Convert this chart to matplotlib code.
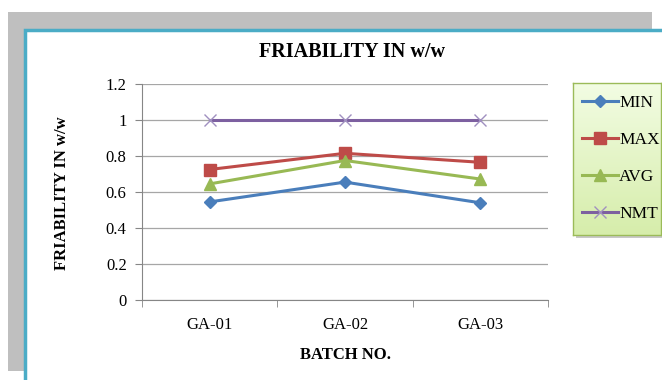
import numpy as np
import matplotlib
matplotlib.use("Agg")
import matplotlib.pyplot as plt
from matplotlib.patches import Rectangle

# data
batches = ["GA-01", "GA-02", "GA-03"]
min_vals = [0.545, 0.655, 0.54]
max_vals = [0.725, 0.815, 0.765]
avg_vals = [0.645, 0.775, 0.672]
nmt_vals = [1, 1, 1]

plt.rcParams["font.family"] = ["Liberation Serif", "DejaVu Serif"]

W, H = 662, 380
fig = plt.figure(figsize=(W / 100, H / 100), dpi=100)

def px(x0, y0, x1, y1):
    # pixel box (top-left origin) -> figure fractions
    return (x0 / W, 1 - y1 / H, (x1 - x0) / W, (y1 - y0) / H)

# gray outer frame
l, b, w, h = px(8, 12, 652, 371)
fig.patches.append(Rectangle((l, b), w, h, transform=fig.transFigure,
                             facecolor="#bfbfbf", edgecolor="none", zorder=-3))
# white panel with teal border
l, b, w, h = px(25, 30, 690, 400)
fig.patches.append(Rectangle((l, b), w, h, transform=fig.transFigure,
                             facecolor="white", edgecolor="#4bacc6",
                             linewidth=2.5, zorder=-2))

ax = fig.add_axes(px(142, 84, 548, 300))
ax.set_facecolor("none")
ax.set_zorder(2)
x = np.arange(len(batches))

ax.plot(x, min_vals, color="#4a7ebb", lw=2.2, marker="D", ms=6, label="MIN", zorder=5)
ax.plot(x, max_vals, color="#be4b48", lw=2.2, marker="s", ms=8, label="MAX", zorder=5)
ax.plot(x, avg_vals, color="#98b954", lw=2.2, marker="^", ms=8, label="AVG", zorder=5)
ax.plot(x, nmt_vals, color="#7d60a0", lw=2.2, marker="x", ms=9, mew=1,
        mec="#a090c0", label="NMT", zorder=5)

ax.set_xlim(-0.5, 2.5)
ax.set_ylim(0, 1.2)
ax.set_yticks(np.arange(0, 1.21, 0.2))
ax.set_yticklabels(["0", "0.2", "0.4", "0.6", "0.8", "1", "1.2"])
ax.set_xticks(x)
ax.set_xticklabels(batches)
ax.set_xticks([-0.5, 0.5, 1.5, 2.5], minor=True)
ax.tick_params(axis="x", which="major", length=0, pad=12, labelsize=12)
ax.tick_params(axis="x", which="minor", length=5, color="#868686")
ax.tick_params(axis="y", length=5, color="#868686", labelsize=12, pad=6)
ax.grid(axis="y", color="#a6a6a6", lw=0.9)
for s in ["top", "right"]:
    ax.spines[s].set_visible(False)
for s in ["left", "bottom"]:
    ax.spines[s].set_color("#868686")

fig.text(352 / W, 1 - 52 / H, "FRIABILITY IN w/w", ha="center", va="center",
         fontsize=14.5, fontweight="bold")
fig.text(62 / W, 1 - 193 / H, "FRIABILITY IN w/w", ha="center", va="center",
         rotation=90, fontsize=12, fontweight="bold")
fig.text(345 / W, 1 - 355 / H, "BATCH NO.", ha="center", va="center",
         fontsize=12, fontweight="bold")

# legend box with green gradient and shadow
l, b, w, h = px(576, 86, 665, 238)
fig.patches.append(Rectangle((l, b), w, h, transform=fig.transFigure,
                             facecolor="#c8c8c8", edgecolor="none", zorder=-1))
lax = fig.add_axes(px(573, 83, 661, 235))
lax.set_zorder(3)
grad = np.linspace(0, 1, 100).reshape(-1, 1)
c0 = np.array([0.95, 0.99, 0.89])
c1 = np.array([0.84, 0.93, 0.67])
img = c0 + (c1 - c0) * grad[:, :, None]
lax.imshow(img, aspect="auto", extent=(0, 1, 0, 1), origin="upper")
lax.set_xticks([])
lax.set_yticks([])
for s in lax.spines.values():
    s.set_color("#9bbb59")
    s.set_linewidth(1)

handles, labels = ax.get_legend_handles_labels()
leg = fig.legend(handles, labels, loc="upper left", bbox_to_anchor=(575 / W, 1 - 88 / H),
                 frameon=False, fontsize=12.5, handlelength=2.1, handletextpad=0.05,
                 labelspacing=1.2, borderaxespad=0)
leg.set_zorder(10)

fig.savefig("out.png", dpi=100)
